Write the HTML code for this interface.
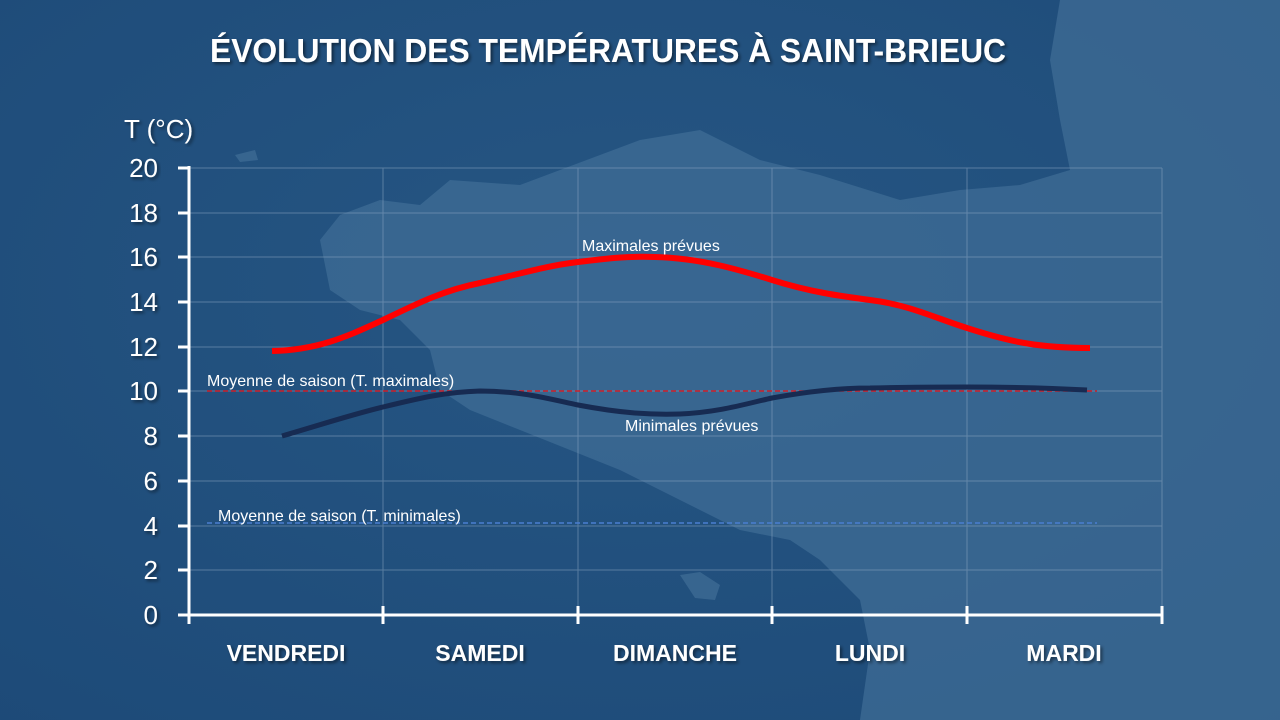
<!DOCTYPE html>
<html><head><meta charset="utf-8"><style>
html,body{margin:0;padding:0;width:1280px;height:720px;overflow:hidden;background:#22507f}
svg{display:block}
text{font-family:"Liberation Sans",sans-serif}
</style></head><body>
<svg width="1280" height="720" viewBox="0 0 1280 720" xmlns="http://www.w3.org/2000/svg">
<defs>
<radialGradient id="bg" cx="0.5" cy="0.4" r="0.8">
<stop offset="0" stop-color="#265683"/><stop offset="1" stop-color="#1d4a78"/>
</radialGradient>
<filter id="sh"><feDropShadow dx="2" dy="2" stdDeviation="1.5" flood-color="#000" flood-opacity="0.5"/></filter>
</defs>
<rect width="1280" height="720" fill="url(#bg)"/>
<path fill="#3f6c96" opacity="0.75" d="M320,240 L340,215 L380,200 L420,205 L450,180 L520,185 L560,170 L640,140 L700,130 L760,160 L820,175 L900,200 L960,190 L1020,185 L1070,170 L1060,120 L1050,60 L1060,0 L1280,0 L1280,720 L860,720 L870,650 L860,600 L820,560 L790,540 L740,530 L700,510 L660,490 L620,470 L570,450 L520,430 L470,410 L440,390 L430,350 L400,320 L360,310 L330,290 Z"/>
<path fill="#3f6c96" opacity="0.75" d="M680,575 L700,572 L720,585 L715,600 L695,598 Z"/>
<path fill="#3f6c96" opacity="0.75" d="M235,155 L255,150 L258,160 L240,162 Z"/>
<g stroke="#8fa9c4" stroke-width="1" opacity="0.5">
<line x1="189" y1="168" x2="1162" y2="168"/><line x1="189" y1="213" x2="1162" y2="213"/>
<line x1="189" y1="257" x2="1162" y2="257"/><line x1="189" y1="302" x2="1162" y2="302"/>
<line x1="189" y1="347" x2="1162" y2="347"/><line x1="189" y1="391" x2="1162" y2="391"/>
<line x1="189" y1="436" x2="1162" y2="436"/><line x1="189" y1="481" x2="1162" y2="481"/>
<line x1="189" y1="526" x2="1162" y2="526"/><line x1="189" y1="570" x2="1162" y2="570"/>
<line x1="383" y1="168" x2="383" y2="615"/><line x1="578" y1="168" x2="578" y2="615"/>
<line x1="772" y1="168" x2="772" y2="615"/><line x1="967" y1="168" x2="967" y2="615"/>
<line x1="1162" y1="168" x2="1162" y2="615"/>
</g>
<line x1="207" y1="391" x2="1097" y2="391" stroke="#d0202a" stroke-width="1.5" stroke-dasharray="5,3"/>
<line x1="207" y1="523" x2="1097" y2="523" stroke="#4a7fd0" stroke-width="1.5" stroke-dasharray="5,3"/>
<g stroke="#fff" stroke-width="3">
<line x1="189" y1="166" x2="189" y2="624"/>
<line x1="187" y1="615" x2="1163" y2="615"/>
<line x1="178" y1="168" x2="189" y2="168"/><line x1="178" y1="213" x2="189" y2="213"/>
<line x1="178" y1="257" x2="189" y2="257"/><line x1="178" y1="302" x2="189" y2="302"/>
<line x1="178" y1="347" x2="189" y2="347"/><line x1="178" y1="391" x2="189" y2="391"/>
<line x1="178" y1="436" x2="189" y2="436"/><line x1="178" y1="481" x2="189" y2="481"/>
<line x1="178" y1="526" x2="189" y2="526"/><line x1="178" y1="570" x2="189" y2="570"/>
<line x1="178" y1="615" x2="189" y2="615"/>
<line x1="383" y1="606" x2="383" y2="624"/><line x1="578" y1="606" x2="578" y2="624"/>
<line x1="772" y1="606" x2="772" y2="624"/><line x1="967" y1="606" x2="967" y2="624"/>
<line x1="1162" y1="606" x2="1162" y2="624"/>
</g>
<path d="M272,351 C320,350 350,335 383,320 C420,302 445,290 480,283 C520,274 545,266 578,262 C610,258 630,256 655,257 C700,258 740,270 772,280 C810,292 840,296 870,300 C910,305 935,318 967,328 C1010,342 1040,348 1090,348" fill="none" stroke="#ff0000" stroke-width="6"/>
<path d="M282,436 C320,425 350,415 383,407 C420,398 445,392 480,391 C520,391 545,398 578,405 C620,413 650,415 680,414 C720,412 745,404 772,398 C810,391 840,388 870,388 C910,387 935,387 967,387 C1010,387 1050,388 1087,390" fill="none" stroke="#172b52" stroke-width="5"/>
<g fill="#fff" font-size="16">
<text x="582" y="251">Maximales prévues</text>
<text x="625" y="431">Minimales prévues</text>
<text x="207" y="386">Moyenne de saison (T. maximales)</text>
<text x="218" y="521">Moyenne de saison (T. minimales)</text>
</g>
<g fill="#fff" font-size="26" text-anchor="end" filter="url(#sh)">
<text x="158" y="177">20</text><text x="158" y="222">18</text><text x="158" y="266">16</text>
<text x="158" y="311">14</text><text x="158" y="356">12</text><text x="158" y="400">10</text>
<text x="158" y="445">8</text><text x="158" y="490">6</text><text x="158" y="535">4</text>
<text x="158" y="579">2</text><text x="158" y="624">0</text>
</g>
<text x="124" y="138" fill="#fff" font-size="26" filter="url(#sh)">T (°C)</text>
<g fill="#fff" font-size="23" font-weight="bold" text-anchor="middle" filter="url(#sh)">
<text x="286" y="661">VENDREDI</text><text x="480" y="661">SAMEDI</text>
<text x="675" y="661">DIMANCHE</text><text x="870" y="661">LUNDI</text>
<text x="1064" y="661">MARDI</text>
</g>
<text x="608" y="62" fill="#fff" font-size="33" font-weight="bold" text-anchor="middle" filter="url(#sh)" textLength="796" lengthAdjust="spacingAndGlyphs">ÉVOLUTION DES TEMPÉRATURES À SAINT-BRIEUC</text>
</svg>
</body></html>
